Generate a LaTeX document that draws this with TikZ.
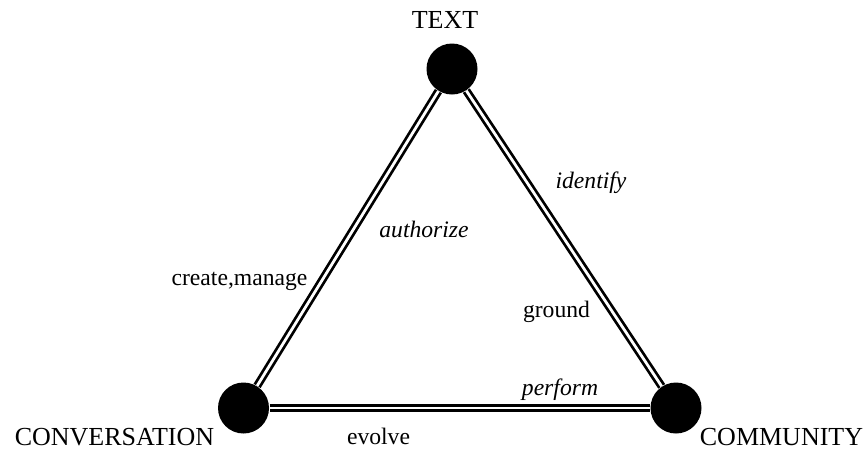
\documentclass[tikz,border=0pt]{standalone}
\usepackage{fontspec}
\setmainfont{Liberation Serif}
\usetikzlibrary{positioning}

\begin{document}
\begin{tikzpicture}[x=0.4pt,y=-0.4pt,
	vertex/.style={circle,fill=black,minimum size=20.4pt,inner sep=0pt},
	caption/.style={font=\fontsize{10.4}{12}\selectfont,anchor=base,inner sep=0pt},
	edgelabel/.style={font=\fontsize{9.45}{11}\selectfont,anchor=base,inner sep=0pt},
	link/.style={double,line width=1.1pt,double distance=1.1pt}]
\useasboundingbox (0,0) rectangle (867,449);

\node[vertex] (text) at (452,69) {};
\node[vertex] (conv) at (243.5,408) {};
\node[vertex] (comm) at (676,408) {};

\node[caption] (textname) at (445,28) {TEXT};
\node[caption] (convname) at (114.5,445) {CONVERSATION};
\node[caption] (commname) at (781.5,445) {COMMUNITY};

\draw[link] (text) -- (conv);
\draw[link] (text) -- (comm);
\draw[link] (conv) -- (comm);

\node[edgelabel] (identify) at (591,188) {\textit{identify}};
\node[edgelabel] (authorize) at (424,237) {\textit{authorize}};
\node[edgelabel] (create) at (239.5,285) {create,manage};
\node[edgelabel] (ground) at (556.5,317) {ground};
\node[edgelabel] (perform) at (560,395) {\textit{perform}};
\node[edgelabel] (evolve) at (378.5,444) {evolve};

\end{tikzpicture}
\end{document}
